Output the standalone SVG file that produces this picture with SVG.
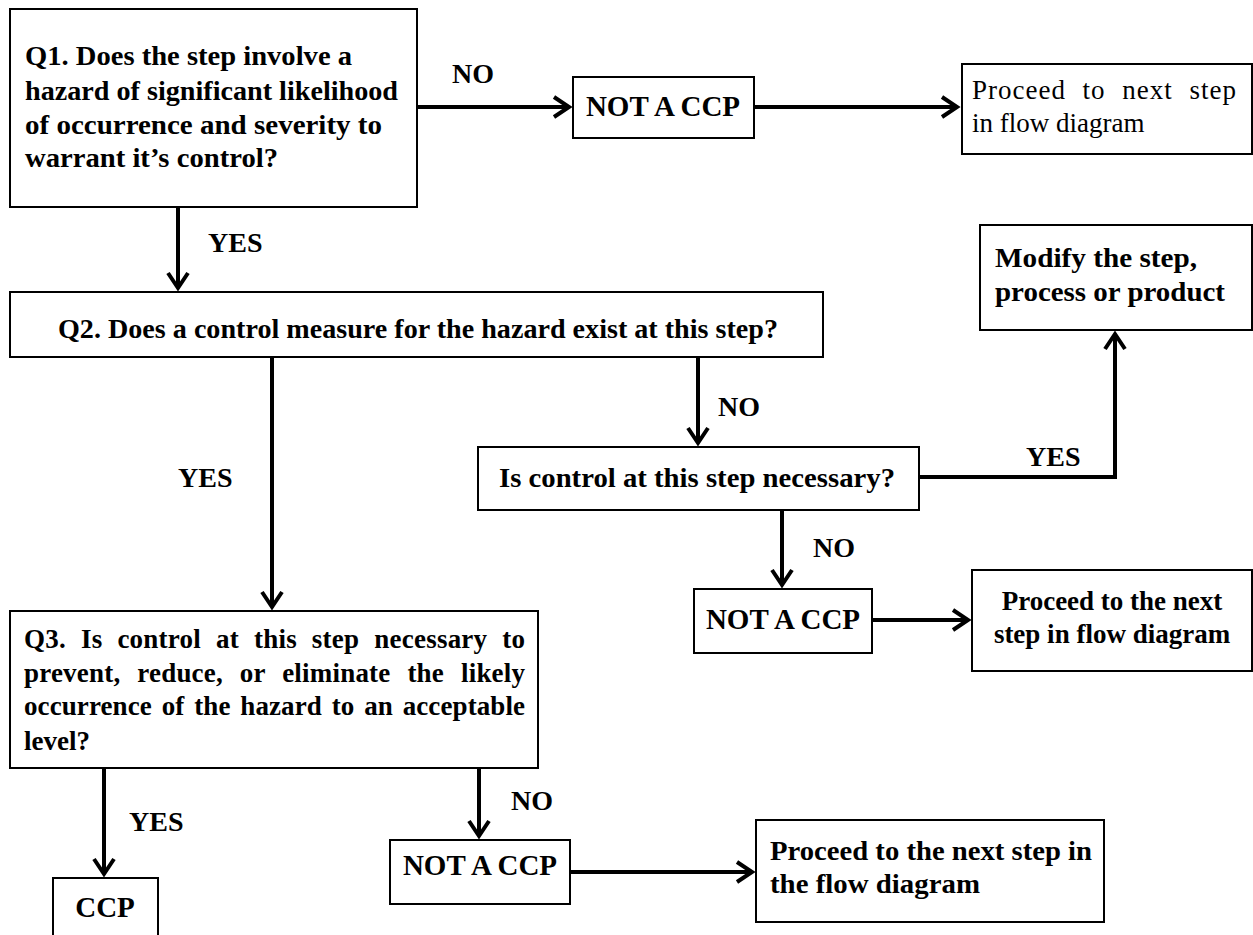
<svg xmlns="http://www.w3.org/2000/svg" width="1253" height="935" viewBox="0 0 1253 935">
<style>
.box{fill:#fff;stroke:#000;stroke-width:2}
.t{font-family:"Liberation Serif","DejaVu Serif",serif;font-weight:bold;font-size:27px;fill:#000}
.r{font-weight:normal}
.big{font-size:29px}
.lbl{font-family:"Liberation Serif","DejaVu Serif",serif;font-weight:bold;font-size:28px;fill:#000}
.c{fill:none;stroke:#000;stroke-width:4;stroke-linejoin:miter}
</style>
<defs>
<marker id="ah" markerUnits="userSpaceOnUse" viewBox="-22 -14 28 28" markerWidth="28" markerHeight="28" refX="0" refY="0" orient="auto">
<path d="M-15,-10 L0,0 L-15,10" fill="none" stroke="#000" stroke-width="4"/>
</marker>
</defs>
<rect width="1253" height="935" fill="#fff"/>
<g id="connectors">
<path class="c" d="M417,107 H569" marker-end="url(#ah)"/>
<path class="c" d="M754,107 H957" marker-end="url(#ah)"/>
<path class="c" d="M178,207 V288" marker-end="url(#ah)"/>
<path class="c" d="M698,357 V443" marker-end="url(#ah)"/>
<path class="c" d="M919,477 H1115 V334" marker-end="url(#ah)"/>
<path class="c" d="M782,510 V585" marker-end="url(#ah)"/>
<path class="c" d="M872,620 H968" marker-end="url(#ah)"/>
<path class="c" d="M272,357 V607" marker-end="url(#ah)"/>
<path class="c" d="M104,768 V874" marker-end="url(#ah)"/>
<path class="c" d="M479,768 V836" marker-end="url(#ah)"/>
<path class="c" d="M570,872 H752" marker-end="url(#ah)"/>
<text class="lbl" x="452" y="83">NO</text>
<text class="lbl" x="208" y="252">YES</text>
<text class="lbl" x="718" y="416">NO</text>
<text class="lbl" x="1026" y="466">YES</text>
<text class="lbl" x="813" y="557">NO</text>
<text class="lbl" x="178" y="487">YES</text>
<text class="lbl" x="129" y="831">YES</text>
<text class="lbl" x="511" y="810">NO</text>
</g>
<g id="q1">
<rect class="box" x="10" y="9" width="407" height="198"/>
<text class="t" x="25" y="65" textLength="327" lengthAdjust="spacingAndGlyphs">Q1. Does the step involve a</text>
<text class="t" x="25" y="100" textLength="373" lengthAdjust="spacingAndGlyphs">hazard of significant likelihood</text>
<text class="t" x="25" y="134" textLength="357" lengthAdjust="spacingAndGlyphs">of occurrence and severity to</text>
<text class="t" x="25" y="167" textLength="253" lengthAdjust="spacingAndGlyphs">warrant it’s control?</text>
</g>
<g id="notccp1">
<rect class="box" x="573" y="77" width="181" height="61"/>
<text class="t big" x="663" y="116" text-anchor="middle">NOT A CCP</text>
</g>
<g id="proceed1">
<rect class="box" x="962" y="64" width="290" height="90"/>
<text class="t r" x="972" y="99" word-spacing="9" textLength="264" lengthAdjust="spacing">Proceed to next step</text>
<text class="t r" x="972" y="132">in flow diagram</text>
</g>
<g id="q2">
<rect class="box" x="10" y="292" width="813" height="65"/>
<text class="t" x="58" y="338" textLength="720" lengthAdjust="spacingAndGlyphs">Q2. Does a control measure for the hazard exist at this step?</text>
</g>
<g id="modify">
<rect class="box" x="980" y="225" width="272" height="105"/>
<text class="t" x="995" y="267" textLength="202" lengthAdjust="spacingAndGlyphs">Modify the step,</text>
<text class="t" x="995" y="301" textLength="230" lengthAdjust="spacingAndGlyphs">process or product</text>
</g>
<g id="necessary">
<rect class="box" x="478" y="447" width="441" height="63"/>
<text class="t" x="499" y="487" textLength="396" lengthAdjust="spacingAndGlyphs">Is control at this step necessary?</text>
</g>
<g id="notccp2">
<rect class="box" x="694" y="589" width="178" height="64"/>
<text class="t big" x="783" y="629" text-anchor="middle">NOT A CCP</text>
</g>
<g id="proceed2">
<rect class="box" x="972" y="570" width="280" height="101"/>
<text class="t" x="1112" y="610" text-anchor="middle">Proceed to the next</text>
<text class="t" x="1112" y="643" text-anchor="middle">step in flow diagram</text>
</g>
<g id="q3">
<rect class="box" x="10" y="611" width="528" height="157"/>
<text class="t" x="24" y="648" word-spacing="8" textLength="501" lengthAdjust="spacing">Q3. Is control at this step necessary to</text>
<text class="t" x="24" y="682" word-spacing="10" textLength="501" lengthAdjust="spacing">prevent, reduce, or eliminate the likely</text>
<text class="t" x="24" y="715" word-spacing="3" textLength="501" lengthAdjust="spacing">occurrence of the hazard to an acceptable</text>
<text class="t" x="24" y="750">level?</text>
</g>
<g id="ccp">
<rect class="box" x="53" y="878" width="105" height="70"/>
<text class="t big" x="105" y="917" text-anchor="middle">CCP</text>
</g>
<g id="notccp3">
<rect class="box" x="390" y="840" width="180" height="64"/>
<text class="t big" x="480" y="875" text-anchor="middle">NOT A CCP</text>
</g>
<g id="proceed3">
<rect class="box" x="756" y="820" width="348" height="102"/>
<text class="t" x="770" y="860" textLength="322" lengthAdjust="spacingAndGlyphs">Proceed to the next step in</text>
<text class="t" x="770" y="893" textLength="210" lengthAdjust="spacingAndGlyphs">the flow diagram</text>
</g>
</svg>
